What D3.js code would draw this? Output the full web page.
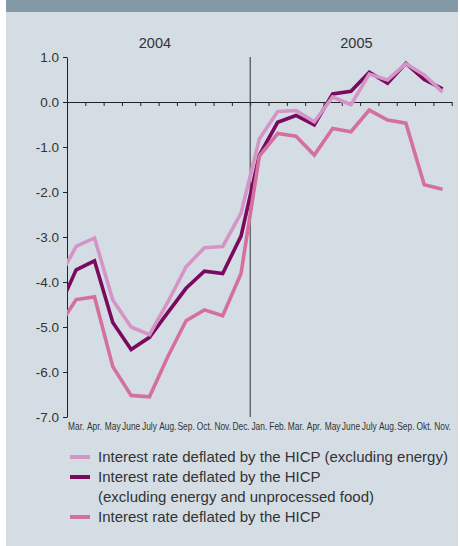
<!DOCTYPE html>
<html>
<head>
<meta charset="utf-8">
<script src="https://cdn.jsdelivr.net/npm/d3@7"></script>
<style>
  html, body { margin: 0; padding: 0; background: #ffffff; }
  svg { display: block; }
  text { font-family: "Liberation Sans", Arial, sans-serif; }
</style>
</head>
<body>
<svg id="chart" width="460" height="546"></svg>
<script>
// Month labels along the bottom (March 2004 – November 2005)
const monthLabels = ["Mar.", "Apr.", "May", "June", "July", "Aug.", "Sep.", "Oct.", "Nov.", "Dec.",
                     "Jan.", "Feb.", "Mar.", "Apr.", "May", "June", "July", "Aug.", "Sep.", "Okt.", "Nov."];
// Month index of each observation; -1 is February 2004, which the plot clips at the axis
const monthIndex = [-1, 0, 1, 2, 3, 4, 5, 6, 7, 8, 9, 10, 11, 12, 13, 14, 15, 16, 17, 18, 19, 20];

// Real interest rate (%) deflated by each price measure
const exEnergy = [-3.95, -3.21, -3.02, -4.40, -5.00, -5.17, -4.45, -3.66, -3.24, -3.21, -2.47,
                  -0.82, -0.21, -0.19, -0.44, 0.11, -0.06, 0.62, 0.49, 0.85, 0.60, 0.22];
const exEnergyFood = [-4.63, -3.73, -3.53, -4.90, -5.50, -5.23, -4.68, -4.14, -3.76, -3.81, -2.98,
                      -1.18, -0.45, -0.30, -0.51, 0.18, 0.24, 0.66, 0.42, 0.86, 0.50, 0.29];
const headline = [-5.01, -4.39, -4.33, -5.88, -6.52, -6.55, -5.66, -4.86, -4.62, -4.75, -3.81,
                  -1.20, -0.70, -0.76, -1.18, -0.59, -0.66, -0.18, -0.40, -0.47, -1.84, -1.94];

const yTicks = [1, 0, -1, -2, -3, -4, -5, -6, -7];
const years = ["2004", "2005"];
const yearCentre = [4.3, 15.3];
const yearBreak = 9.5;

const seriesNames = [
  ["Interest rate deflated by the HICP (excluding energy)"],
  ["Interest rate deflated by the HICP", "(excluding energy and unprocessed food)"],
  ["Interest rate deflated by the HICP"]
];
const seriesColors = ["#d594c6", "#7a0a60", "#d4709f"];
const seriesValues = [exEnergy, exEnergyFood, headline];

const svg = d3.select("#chart");

// panel and header band
svg.append("rect").attr("x", 6).attr("y", 0).attr("width", 452).attr("height", 546).attr("fill", "#d5dde4");
svg.append("rect").attr("x", 6).attr("y", 0).attr("width", 452).attr("height", 12).attr("fill", "#8399a8");

const x = d3.scaleLinear().domain([-0.5, 20.5]).range([67, 451.7]);
const y = d3.scaleLinear().domain([-7, 1]).range([417, 57]);

const fmt = v => d3.format(".1f")(v).replace("\u2212", "-");

// y axis
const yAxis = svg.append("g").attr("transform", `translate(${x(-0.5)},0)`)
  .call(d3.axisLeft(y).tickValues(yTicks).tickFormat(fmt).tickSize(4).tickSizeOuter(0).tickPadding(4));
yAxis.selectAll("text").attr("font-size", 13.5).attr("fill", "#333").attr("font-family", "Liberation Sans, Arial, sans-serif");
yAxis.selectAll("line,path").attr("stroke", "#222");

// zero line with month boundary ticks
const bounds = d3.range(0, 22).map(i => i - 0.5);
const xAxis = svg.append("g").attr("transform", `translate(0,${y(0)})`)
  .call(d3.axisBottom(x).tickValues(bounds).tickFormat("").tickSize(4).tickSizeOuter(0));
xAxis.selectAll("line,path").attr("stroke", "#222");

// year divider
svg.append("line").attr("x1", x(yearBreak)).attr("x2", x(yearBreak))
  .attr("y1", y(1)).attr("y2", y(-7)).attr("stroke", "#333").attr("stroke-width", 1);

// year labels
svg.selectAll(".year").data(years).join("text").attr("class", "year")
  .attr("x", (d, i) => x(yearCentre[i])).attr("y", 48).attr("text-anchor", "middle")
  .attr("font-size", 14.5).attr("fill", "#333").text(d => d);

// month labels (condensed)
svg.selectAll(".month").data(monthLabels).join("text").attr("class", "month")
  .attr("transform", (d, i) => `translate(${x(i)},429.5) scale(0.8,1)`)
  .attr("text-anchor", "middle").attr("font-size", 10.5).attr("fill", "#333").text(d => d);

// lines
svg.append("clipPath").attr("id", "plotClip").append("rect")
  .attr("x", x(-0.5)).attr("y", 0).attr("width", x(20.5) - x(-0.5)).attr("height", 546);

const line = d3.line().x((d, i) => x(monthIndex[i])).y(d => y(d));
const drawOrder = [1, 0, 2];
svg.append("g").attr("clip-path", "url(#plotClip)")
  .selectAll("path").data(drawOrder).join("path")
  .attr("d", k => line(seriesValues[k]))
  .attr("fill", "none").attr("stroke", k => seriesColors[k])
  .attr("stroke-width", 3.6).attr("stroke-linejoin", "miter");

// legend
const legendRows = [0, 1, 3];
const lg = svg.append("g");
seriesNames.forEach((lines, k) => {
  const cy = 457 + legendRows[k] * 20;
  lg.append("line").attr("x1", 70).attr("x2", 90).attr("y1", cy).attr("y2", cy)
    .attr("stroke", seriesColors[k]).attr("stroke-width", 4);
  lines.forEach((t, j) => {
    lg.append("text").attr("x", 98).attr("y", cy + 5 + j * 20)
      .attr("font-size", 15).attr("fill", "#333").text(t);
  });
});
</script>
</body>
</html>
